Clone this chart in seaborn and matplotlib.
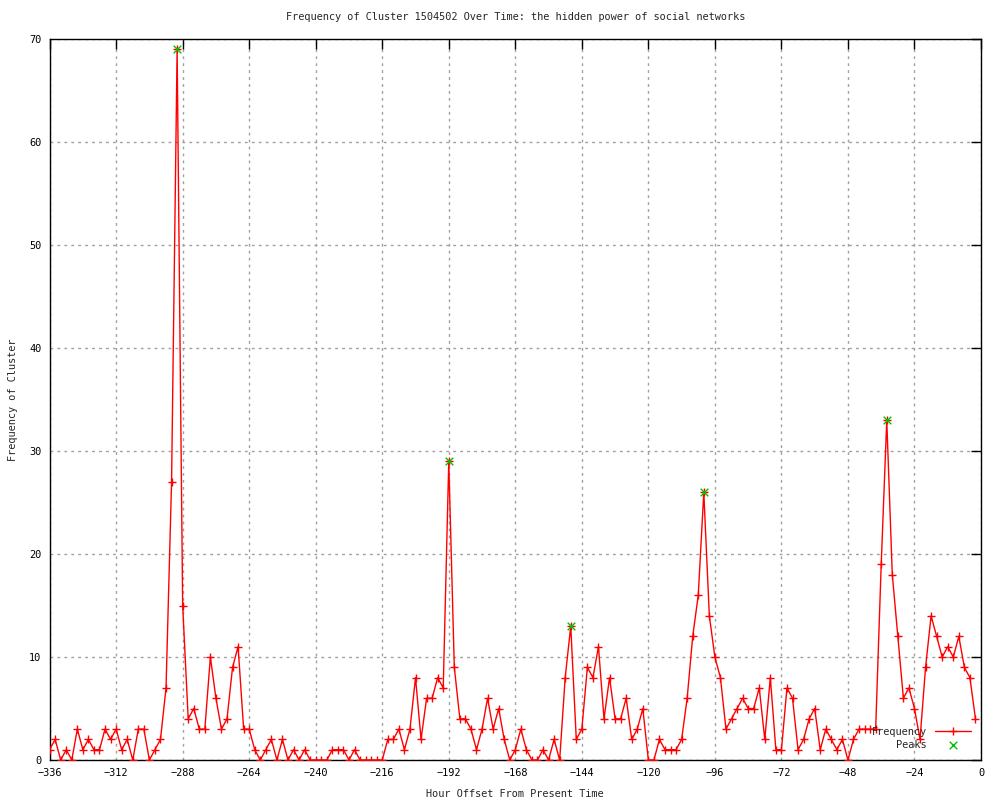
import matplotlib
matplotlib.use("Agg")
import matplotlib.pyplot as plt
import seaborn as sns
import pandas as pd
import numpy as np

hours = list(range(-336, 0, 2))
freq = [1, 2, 0, 1, 0, 3, 1, 2, 1, 1, 3, 2, 3, 1, 2, 0, 3, 3, 0, 1, 2, 7, 27, 69,
        15, 4, 5, 3, 3, 10, 6, 3, 4, 9, 11, 3, 3, 1, 0, 1, 2, 0, 2, 0, 1, 0, 1, 0,
        0, 0, 0, 1, 1, 1, 0, 1, 0, 0, 0, 0, 0, 2, 2, 3, 1, 3, 8, 2, 6, 6, 8, 7,
        29, 9, 4, 4, 3, 1, 3, 6, 3, 5, 2, 0, 1, 3, 1, 0, 0, 1, 0, 2, 0, 8, 13, 2,
        3, 9, 8, 11, 4, 8, 4, 4, 6, 2, 3, 5, 0, 0, 2, 1, 1, 1, 2, 6, 12, 16, 26, 14,
        10, 8, 3, 4, 5, 6, 5, 5, 7, 2, 8, 1, 1, 7, 6, 1, 2, 4, 5, 1, 3, 2, 1, 2,
        0, 2, 3, 3, 3, 3, 19, 33, 18, 12, 6, 7, 5, 2, 9, 14, 12, 10, 11, 10, 12, 9, 8, 4]
peak_hours = [-290, -192, -148, -100, -34]
peak_vals = [69, 29, 13, 26, 33]

xticks = list(range(-336, 1, 24))
yticks = list(range(0, 71, 10))

df = pd.DataFrame({"hour": hours, "freq": freq})
dp = pd.DataFrame({"hour": peak_hours, "freq": peak_vals})

sns.set_style("white")
plt.rcParams['font.family'] = ['DejaVu Sans Mono']
plt.rcParams['font.size'] = 7.4

fig = plt.figure(figsize=(10, 8), dpi=100)
ax = fig.add_axes([0.0496, 0.05, 0.9314, 0.901])

sns.lineplot(data=df, x="hour", y="freq", ax=ax, color="red", linewidth=1,
             marker="+", markersize=6, markeredgewidth=1, markeredgecolor="red",
             label="Frequency", zorder=3)
sns.scatterplot(data=dp, x="hour", y="freq", ax=ax, color="#00c000", marker="x",
                s=30, linewidth=1, label="Peaks", zorder=4)

ax.set_xlim(-336, 0)
ax.set_ylim(0, 70)
ax.set_xticks(xticks)
ax.set_yticks(yticks)
ax.grid(True, color="#a0a0a0", linestyle=(0, (2, 3)), linewidth=1)
ax.tick_params(direction="in", length=7, width=1, top=True, right=True,
               labelsize=7.4, colors="black", pad=6)
for s in ax.spines.values():
    s.set_color("black")
    s.set_linewidth(1)

ax.set_title("Frequency of Cluster 1504502 Over Time: the hidden power of social networks",
             fontsize=7.4, pad=14)
ax.set_xlabel("Hour Offset From Present Time", fontsize=7.4, labelpad=8)
ax.set_ylabel("Frequency of Cluster", fontsize=7.4, labelpad=8)

leg = ax.legend(loc="lower right", frameon=False, markerfirst=False,
                fontsize=7.4, handlelength=3.5, borderaxespad=0.6,
                labelspacing=0.3)
for t in leg.get_texts():
    t.set_ha("right")

fig.savefig("out.png", dpi=100)
